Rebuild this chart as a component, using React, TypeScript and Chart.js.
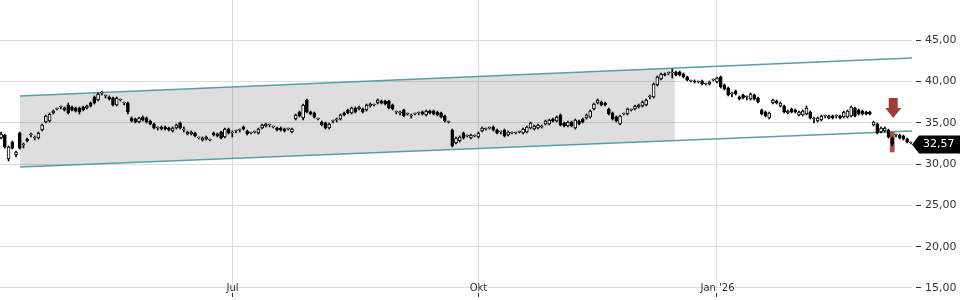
import React, { useEffect, useRef } from 'react';
import { Chart, registerables } from 'chart.js';

Chart.register(...registerables);

// ---- data ----
const START_DATE = '2025-04-01';
const HOLIDAYS = ['2025-04-18', '2025-04-21', '2025-05-01', '2025-12-25', '2025-12-26', '2026-01-01'];

const OPEN = [
  33.14,33.51,30.61,32.66,31.09,33.75,32.30,33.02,33.51,33.14,
  33.14,34.11,35.08,35.20,36.17,36.65,36.89,36.77,37.14,36.89,
  36.77,36.77,36.89,36.77,37.38,38.10,37.74,38.59,38.23,38.10,
  37.98,37.14,37.74,37.38,37.38,35.56,35.44,35.08,35.69,35.56,
  35.20,34.84,34.35,34.48,34.48,34.35,33.99,34.35,34.96,34.11,
  33.63,33.63,33.75,33.14,32.90,33.02,32.90,33.75,33.63,33.87,
  33.27,34.23,33.75,33.99,34.11,34.48,33.99,33.75,33.87,33.75,
  34.35,34.60,34.72,34.48,34.35,34.35,34.23,34.23,33.87,35.44,
  36.29,35.56,37.74,36.29,36.17,35.44,35.08,34.96,34.35,35.20,
  35.32,35.44,36.17,36.53,36.17,36.77,36.65,36.65,36.53,
  37.02,37.14,37.38,37.62,37.62,37.62,37.14,36.29,36.17,36.53,
  36.05,35.81,36.05,36.17,36.29,35.93,36.41,36.41,36.29,36.17,
  35.81,35.08,34.11,32.54,32.78,33.75,33.39,33.14,33.39,33.27,
  33.99,34.23,34.35,34.48,34.11,33.87,34.11,33.51,33.75,33.75,
  33.87,33.75,33.87,34.35,34.23,34.35,34.48,34.84,34.84,
  35.44,35.20,35.93,34.96,34.60,35.08,34.35,35.20,35.44,35.56,
  35.69,36.65,37.38,37.50,37.38,36.65,36.17,35.69,34.84,36.05,
  36.05,36.53,36.65,36.89,37.02,37.14,38.10,38.10,39.56,40.28,
  40.89,41.01,41.01,41.13,41.13,40.89,40.52,40.04,40.04,39.92,
  40.04,39.68,39.68,40.16,39.92,40.52,39.56,39.19,38.47,38.83,
  38.10,
  38.35,38.10,37.86,38.35,37.98,36.53,36.29,35.56,37.38,37.62,
  37.02,37.02,36.17,36.65,36.53,35.93,35.93,36.05,36.29,35.44,
  35.20,35.32,35.81,35.56,35.81,35.81,35.81,35.69,35.69,35.81,
  36.77,36.53,36.41,36.29,36.29,34.72,34.84,33.87,33.99,34.11,
  33.14,33.51,33.51,33.39,33.02,32.57,
];

const HIGH = [
  33.87,33.63,32.18,32.78,31.57,33.87,32.54,33.14,33.75,33.39,
  33.87,34.84,35.93,36.17,36.53,36.77,37.02,36.89,37.38,37.02,
  36.89,36.89,37.02,37.14,37.50,38.23,38.59,38.83,38.35,38.23,
  38.10,38.10,37.86,37.50,37.50,35.69,35.56,35.69,35.81,35.69,
  35.32,34.96,34.48,34.60,34.60,34.48,34.48,34.84,35.08,34.48,
  33.99,33.99,33.87,33.27,33.27,33.39,33.02,33.87,33.75,33.99,
  34.35,34.35,33.99,34.11,34.23,34.60,34.11,33.87,33.99,34.35,
  34.84,34.96,34.84,34.60,34.48,34.48,34.35,34.35,34.35,36.05,
  36.41,37.26,37.86,36.41,36.29,35.56,35.20,35.08,34.96,35.32,
  35.56,36.05,36.29,36.65,36.89,36.89,37.02,36.77,37.26,
  37.38,37.26,37.86,37.74,37.74,37.74,37.26,36.41,36.41,36.65,
  36.17,36.05,36.17,36.29,36.41,36.53,36.53,36.53,36.41,36.29,
  35.93,35.20,34.23,33.27,33.39,33.87,33.51,33.63,33.51,33.87,
  34.48,34.35,34.48,34.60,34.23,33.99,34.23,33.99,33.87,33.87,
  33.99,34.35,34.60,35.08,34.72,34.84,34.72,35.32,35.44,
  35.56,35.81,36.05,35.08,35.20,35.20,35.44,35.32,35.56,36.05,
  36.53,37.38,37.86,37.62,37.50,36.77,36.29,35.81,35.93,36.17,
  36.77,36.65,37.14,37.26,37.62,37.86,38.35,39.80,40.65,41.01,
  41.01,41.13,41.49,41.25,41.25,41.01,40.65,40.16,40.16,40.04,
  40.16,39.80,40.04,40.28,40.52,40.65,39.68,39.31,38.71,38.95,
  38.23,
  38.47,38.23,38.59,38.47,38.10,36.65,36.41,36.29,37.86,37.74,
  37.50,37.14,36.53,36.77,36.65,36.41,36.53,37.02,36.41,35.69,
  35.69,35.93,35.93,35.93,35.93,35.93,35.93,36.41,36.53,37.02,
  36.89,36.65,36.53,36.41,36.41,35.20,34.96,34.48,34.48,34.23,
  33.27,33.63,33.63,33.51,33.14,32.66,
];

const LOW = [
  33.02,31.93,30.36,31.81,30.85,31.81,31.93,32.66,33.27,32.90,
  33.02,33.99,34.96,35.08,36.05,36.53,36.65,36.41,36.05,36.41,
  36.29,36.05,36.41,36.65,36.89,37.26,37.62,38.35,37.98,37.74,
  37.02,37.02,37.62,37.14,36.05,35.08,34.96,34.96,35.20,34.96,
  34.72,34.23,34.11,34.11,34.11,33.99,33.87,34.23,34.23,33.87,
  33.51,33.51,33.27,33.02,32.78,32.90,32.78,33.39,33.27,33.02,
  33.14,33.63,33.27,33.75,33.87,34.11,33.51,33.63,33.75,33.63,
  34.23,34.48,34.48,34.35,33.99,33.99,33.87,34.11,33.75,35.32,
  35.69,35.32,36.17,35.93,35.56,35.32,34.60,34.23,34.23,34.96,
  35.08,35.32,35.81,36.05,36.05,36.17,36.53,36.17,36.41,
  36.89,37.02,37.26,37.26,37.14,36.65,36.53,36.05,35.93,35.69,
  35.93,35.56,35.93,35.93,35.93,35.81,36.05,35.93,35.81,35.56,
  35.08,34.96,32.06,32.42,32.66,33.02,33.27,33.02,33.27,33.14,
  33.87,34.11,34.23,33.99,33.63,33.63,33.27,33.39,33.63,33.63,
  33.75,33.63,33.75,34.23,34.11,34.23,34.35,34.72,34.72,
  35.08,35.08,34.60,34.48,34.48,34.48,34.23,34.72,34.96,35.44,
  35.56,36.53,37.26,37.02,37.02,35.93,35.32,35.08,34.72,35.93,
  35.93,36.41,36.53,36.77,36.89,37.02,37.86,37.98,39.44,40.16,
  40.65,40.77,40.40,40.65,40.65,40.40,40.04,39.92,39.80,39.80,
  39.56,39.56,39.56,40.04,39.80,39.19,38.95,38.23,38.10,38.35,
  37.74,
  37.86,37.74,37.74,37.74,37.38,35.93,35.69,35.44,37.26,37.26,
  36.89,36.17,36.05,36.17,36.17,35.81,35.81,35.93,35.44,34.96,
  35.08,35.20,35.56,35.44,35.44,35.56,35.44,35.56,35.56,35.69,
  35.69,35.93,35.93,35.93,35.93,34.60,33.63,33.75,33.87,33.14,
  32.18,33.27,33.02,32.90,32.54,32.42,
];

const CLOSE = [
  33.63,32.06,32.06,31.93,31.45,31.93,32.30,32.78,33.51,33.14,
  33.75,34.72,35.81,36.05,36.41,36.65,36.89,36.53,36.17,36.53,
  36.41,36.29,36.53,37.02,37.02,37.38,38.47,38.59,38.23,37.86,
  37.14,37.98,37.74,37.38,36.29,35.20,35.08,35.56,35.32,35.08,
  34.84,34.35,34.35,34.23,34.23,34.11,34.35,34.72,34.35,34.11,
  33.87,33.87,33.39,33.14,33.14,33.27,32.90,33.51,33.39,33.14,
  34.23,33.75,33.75,33.99,34.11,34.23,33.63,33.75,33.87,34.23,
  34.72,34.84,34.72,34.48,34.11,34.11,33.99,34.23,34.23,35.93,
  35.81,37.14,36.29,36.05,35.69,35.44,34.72,34.35,34.84,35.20,
  35.32,35.93,35.93,36.17,36.77,36.29,36.89,36.29,37.14,
  37.26,37.14,37.74,37.38,37.26,36.77,36.65,36.29,36.17,35.81,
  36.05,35.81,36.05,36.17,36.05,36.41,36.17,36.05,35.93,35.69,
  35.20,35.08,32.18,33.14,33.27,33.14,33.39,33.51,33.39,33.75,
  34.35,34.23,34.35,34.11,33.75,33.87,33.39,33.87,33.75,33.75,
  33.87,34.23,34.48,34.96,34.60,34.72,34.60,35.20,35.32,
  35.20,35.69,34.72,34.60,35.08,34.60,35.32,34.84,35.08,35.93,
  36.41,37.26,37.74,37.14,37.14,36.05,35.44,35.20,35.81,36.05,
  36.65,36.53,37.02,37.14,37.50,37.74,38.10,39.68,40.52,40.89,
  40.77,41.01,41.01,40.77,40.77,40.52,40.16,40.04,39.92,39.92,
  39.68,39.68,39.92,40.16,40.40,39.31,39.07,38.35,38.47,38.47,
  37.86,
  37.98,38.10,38.47,37.86,37.50,36.05,35.81,36.17,37.74,37.38,
  37.38,36.29,36.41,36.29,36.29,36.29,36.41,36.77,35.56,35.44,
  35.56,35.81,35.81,35.81,35.56,35.81,35.56,36.29,36.41,36.89,
  35.81,36.05,36.05,36.05,36.05,35.08,33.75,34.35,34.35,33.27,
  32.42,33.51,33.14,33.02,32.66,32.57,
];

const MONTH_TICK_DATES = ['2025-07-01', '2025-10-01', '2026-01-02'];
const MONTH_TICK_LABELS = ['Jul', 'Okt', "Jan '26"];
const Y_TICKS = [15, 20, 25, 30, 35, 40, 45];
const Y_MIN = 14.395;
const Y_MAX = 49.839;
const X_MIN = -0.3;
const X_MAX = 244.3;

// trend channel anchors (trading-day index, price)
const CHANNEL_IDX = [5.06, 180.7, 244.3];
const CHANNEL_UPPER = [38.23, 41.6, 42.82];
const CHANNEL_LOWER = [29.64, 32.83, 33.99];

// sell signal
const SIGNAL_DATE = '2026-03-10';
const SIGNAL_RANGE = [31.45, 33.87];
const SIGNAL_ARROW = [35.56, 37.98]; // tip, top

function tradingDays(start: string, count: number, holidays: string[]): string[] {
  const out: string[] = [];
  const d = new Date(start + 'T12:00:00Z');
  while (out.length < count) {
    const wd = d.getUTCDay();
    const iso = d.toISOString().slice(0, 10);
    if (wd !== 0 && wd !== 6 && !holidays.includes(iso)) out.push(iso);
    d.setUTCDate(d.getUTCDate() + 1);
  }
  return out;
}

const DATES = tradingDays(START_DATE, CLOSE.length, HOLIDAYS);
const TICK_IDX = MONTH_TICK_DATES.map((d) => DATES.indexOf(d));
const SIGNAL_IDX = DATES.indexOf(SIGNAL_DATE);

const fmt = (v: number) => v.toFixed(2).replace('.', ',');

const overlayPlugin = {
  id: 'overlay',
  afterDraw(chart: any) {
    const { ctx, scales, chartArea } = chart;
    const x = scales.x;
    const y = scales.y;
    ctx.save();
    // month labels (drawn inside the plot, above the tick marks)
    ctx.fillStyle = '#333';
    ctx.font = '10px "DejaVu Sans"';
    ctx.textAlign = 'center';
    ctx.textBaseline = 'middle';
    TICK_IDX.forEach((ti, k) => {
      ctx.fillText(MONTH_TICK_LABELS[k], Math.round(x.getPixelForValue(ti)) + 0.5, chartArea.bottom - 5);
    });
    // arrow
    const cx = x.getPixelForValue(SIGNAL_IDX) + 1;
    const yTip = y.getPixelForValue(SIGNAL_ARROW[0]);
    const yTop = y.getPixelForValue(SIGNAL_ARROW[1]);
    const headH = 10;
    ctx.fillStyle = '#9d3d36';
    ctx.beginPath();
    ctx.moveTo(cx - 4.5, yTop);
    ctx.lineTo(cx + 4.5, yTop);
    ctx.lineTo(cx + 4.5, yTip - headH);
    ctx.lineTo(cx + 8, yTip - headH);
    ctx.lineTo(cx, yTip);
    ctx.lineTo(cx - 8, yTip - headH);
    ctx.lineTo(cx - 4.5, yTip - headH);
    ctx.closePath();
    ctx.fill();
    // last price label
    const last = CLOSE[CLOSE.length - 1];
    const py = Math.round(y.getPixelForValue(last)) + 1.5;
    const left = chartArea.right;
    ctx.fillStyle = '#000';
    ctx.beginPath();
    ctx.moveTo(left, py);
    ctx.lineTo(left + 7, py - 9);
    ctx.lineTo(chart.width, py - 9);
    ctx.lineTo(chart.width, py + 9);
    ctx.lineTo(left + 7, py + 9);
    ctx.closePath();
    ctx.fill();
    ctx.fillStyle = '#fff';
    ctx.font = '11px "DejaVu Sans"';
    ctx.textBaseline = 'middle';
    ctx.textAlign = 'left';
    ctx.fillText(fmt(last), left + 11, py);
    ctx.restore();
  },
};

export default function App() {
  const ref = useRef<HTMLCanvasElement | null>(null);

  useEffect(() => {
    if (!ref.current) return;
    const idx = CLOSE.map((_, i) => i);
    const up = CLOSE.map((c, i) => c >= OPEN[i]);
    const line = (xs: number[], ys: number[]) => xs.map((v, i) => ({ x: v, y: ys[i] }));

    const chart = new Chart(ref.current, {
      type: 'bar',
      data: {
        datasets: [
          {
            type: 'line',
            label: 'channelFillTop',
            data: line(CHANNEL_IDX.slice(0, 2), CHANNEL_UPPER.slice(0, 2)),
            borderWidth: 0,
            borderColor: 'rgba(0,0,0,0)',
            pointRadius: 0,
            fill: '+1',
            backgroundColor: 'rgba(0,0,0,0.13)',
            order: 6,
          },
          {
            type: 'line',
            label: 'channelFillBottom',
            data: line(CHANNEL_IDX.slice(0, 2), CHANNEL_LOWER.slice(0, 2)),
            borderWidth: 0,
            borderColor: 'rgba(0,0,0,0)',
            pointRadius: 0,
            fill: false,
            order: 5,
          },
          {
            type: 'line',
            label: 'upper',
            data: line([CHANNEL_IDX[0], CHANNEL_IDX[2]], [CHANNEL_UPPER[0], CHANNEL_UPPER[2]]),
            borderColor: '#55a0a3',
            borderWidth: 1.5,
            pointRadius: 0,
            fill: false,
            order: 4,
          },
          {
            type: 'line',
            label: 'lower',
            data: line([CHANNEL_IDX[0], CHANNEL_IDX[2]], [CHANNEL_LOWER[0], CHANNEL_LOWER[2]]),
            borderColor: '#55a0a3',
            borderWidth: 1.5,
            pointRadius: 0,
            fill: false,
            order: 3,
          },
          {
            type: 'bar',
            label: 'signal',
            data: [{ x: SIGNAL_IDX, y: SIGNAL_RANGE }],
            backgroundColor: 'rgba(160,62,52,0.9)',
            barThickness: 4,
            grouped: false,
            order: 2,
          },
          {
            type: 'bar',
            label: 'wick',
            data: idx.map((i) => ({ x: i, y: [LOW[i], HIGH[i]] })),
            backgroundColor: '#000',
            barThickness: 1,
            grouped: false,
            order: 1,
          },
          {
            type: 'bar',
            label: 'body',
            data: idx.map((i) => ({ x: i, y: [OPEN[i], CLOSE[i]] })),
            backgroundColor: up.map((u) => (u ? '#ffffff' : '#000000')),
            borderColor: '#000',
            borderWidth: 1,
            borderSkipped: false,
            barThickness: 3,
            minBarLength: 1,
            grouped: false,
            order: 0,
          },
        ] as any,
      },
      options: {
        animation: false,
        responsive: false,
        devicePixelRatio: 1,
        layout: { padding: 0 },
        plugins: {
          legend: { display: false },
          tooltip: { enabled: false },
        },
        events: [],
        scales: {
          x: {
            type: 'linear',
            min: X_MIN,
            max: X_MAX,
            offset: false,
            border: { display: false },
            grid: {
              offset: false,
              color: '#dcdcdc',
              drawTicks: true,
              tickLength: 4,
              tickColor: '#333',
            },
            afterBuildTicks: (s: any) => {
              s.ticks = TICK_IDX.map((v) => ({ value: v }));
            },
            afterFit: (s: any) => {
              s.height = 7;
              s.paddingLeft = 0;
              s.paddingRight = 0;
              s.paddingTop = 0;
              s.paddingBottom = 0;
            },
            ticks: {
              display: false,
              autoSkip: false,
              maxRotation: 0,
            },
          },
          y: {
            type: 'linear',
            position: 'right',
            min: Y_MIN,
            max: Y_MAX,
            border: { display: false },
            grid: {
              color: '#dcdcdc',
              drawTicks: true,
              tickLength: 10,
              tickColor: '#333',
              tickBorderDash: [0, 4, 5, 100],
            },
            afterBuildTicks: (s: any) => {
              s.ticks = Y_TICKS.map((v) => ({ value: v }));
            },
            afterFit: (s: any) => {
              s.width = 48;
              s.paddingTop = 0;
              s.paddingBottom = 0;
              s.paddingLeft = 0;
              s.paddingRight = 0;
            },
            ticks: {
              padding: 3,
              color: '#333',
              font: { family: 'DejaVu Sans', size: 11 },
              callback: (v: any) => fmt(Number(v)),
            },
          },
        },
      } as any,
      plugins: [overlayPlugin],
    });
    return () => chart.destroy();
  }, []);

  return (
    <div style={{ position: 'fixed', left: 0, top: 0, width: 960, height: 300, background: '#fff' }}>
      <canvas ref={ref} width={960} height={300} style={{ display: 'block' }} />
    </div>
  );
}
